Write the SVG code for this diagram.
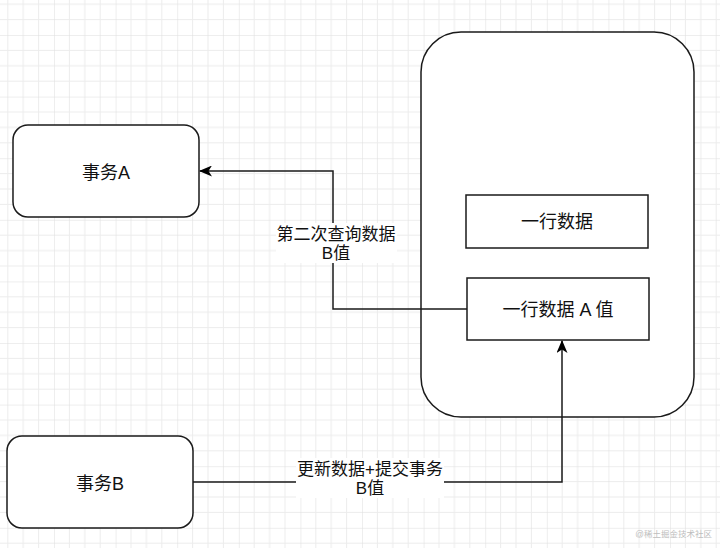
<svg xmlns="http://www.w3.org/2000/svg" width="720" height="548" viewBox="0 0 720 548">
<defs>
<pattern id="grid" patternUnits="userSpaceOnUse" x="-7.6" y="35" width="61.6" height="61.6">
<path d="M15.4 0V61.6M30.8 0V61.6M46.2 0V61.6M0 15.4H61.6M0 30.8H61.6M0 46.2H61.6" stroke="#ececec" stroke-width="1" fill="none"/>
<path d="M0 0V61.6M0 0H61.6" stroke="#dedede" stroke-width="1" fill="none"/>
</pattern>
<marker id="arr" viewBox="0 0 13 11" refX="12" refY="5.5" markerWidth="13" markerHeight="11" markerUnits="userSpaceOnUse" orient="auto">
<path d="M0 0L13 5.5L0 11L3.5 5.5Z" fill="#000"/>
</marker>
<style>
.box{fill:#fff;stroke:#1a1a1a;stroke-width:1.5}
.t{font-family:"Helvetica","Liberation Sans","Noto Sans CJK SC",sans-serif;fill:#111;text-anchor:middle;dominant-baseline:central}
.n{font-size:18px}
.l{font-size:17px}
.c{fill:none;stroke:#1a1a1a;stroke-width:1.5}
.lb{fill:#fff}
</style>
</defs>
<rect width="720" height="548" fill="#fff"/>
<rect width="720" height="548" fill="url(#grid)"/>

<g id="storage">
<rect class="box" x="421" y="32" width="273" height="385" rx="40" ry="40"/>
</g>
<g id="row">
<rect class="box" x="466" y="195" width="182" height="53"/>
<text class="t n" x="557" y="222">一行数据</text>
</g>
<g id="rowA">
<rect class="box" x="467" y="278" width="182" height="62"/>
<text class="t n" x="558" y="310">一行数据 A 值</text>
</g>
<g id="txA">
<rect class="box" x="13" y="125" width="186" height="92" rx="15" ry="15"/>
<text class="t n" x="106" y="173">事务A</text>
</g>
<g id="txB">
<rect class="box" x="7" y="436" width="186" height="92" rx="15" ry="15"/>
<text class="t n" x="100" y="484">事务B</text>
</g>

<g id="connectors">
<path class="c" d="M467 309H333V171H200" marker-end="url(#arr)"/>
<rect class="lb" x="276" y="223" width="121" height="40"/>
<text class="t l" x="336" y="234">第二次查询数据</text>
<text class="t l" x="336" y="253">B值</text>
<path class="c" d="M193 482H562V341" marker-end="url(#arr)"/>
<rect class="lb" x="296" y="458" width="148" height="40"/>
<text class="t l" x="370" y="469">更新数据+提交事务</text>
<text class="t l" x="370" y="488">B值</text>
</g>

<text x="712" y="537" font-family="'Liberation Sans','Noto Sans CJK SC',sans-serif" font-size="8.5" fill="#bdbdbd" text-anchor="end">@稀土掘金技术社区</text>
</svg>
